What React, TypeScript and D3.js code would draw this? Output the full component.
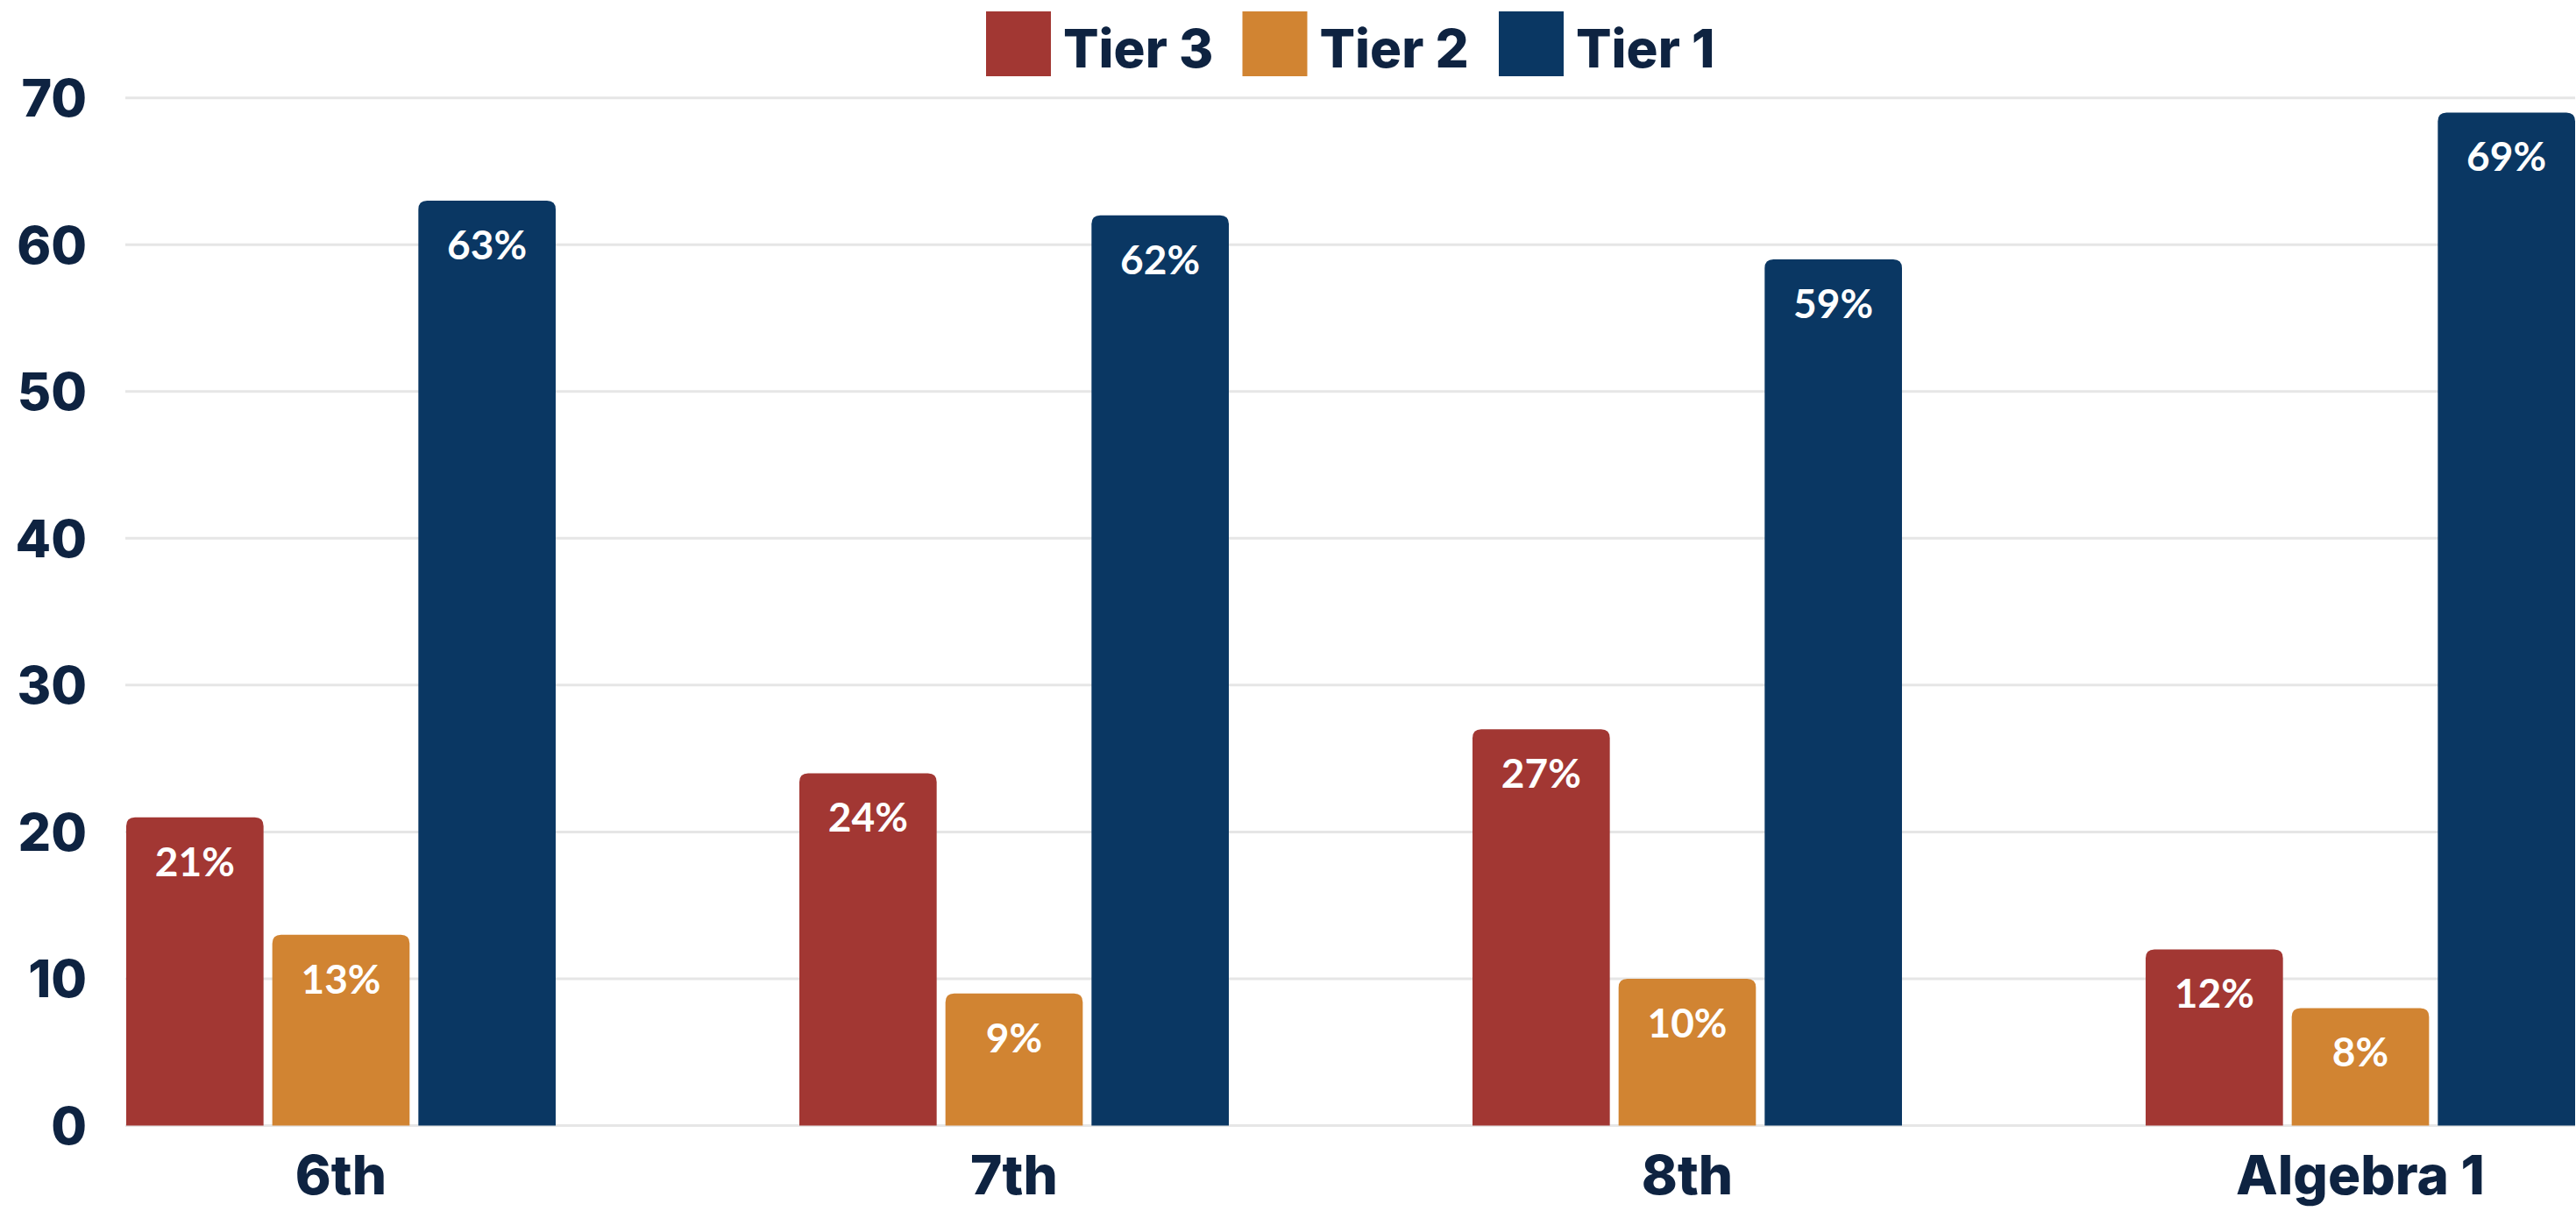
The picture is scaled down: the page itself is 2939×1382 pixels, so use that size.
import React from 'react';
import * as d3 from 'd3';

const categories = ['6th', '7th', '8th', 'Algebra 1'];
const seriesNames = ['Tier 3', 'Tier 2', 'Tier 1'];
const tier3 = [21, 24, 27, 12];
const tier2 = [13, 9, 10, 8];
const tier1 = [63, 62, 59, 69];
const yTicks = [0, 10, 20, 30, 40, 50, 60, 70];

const colors = ['#A23733', '#D18432', '#0A3763'];
const textColor = '#0E2341';
const gridColor = '#E6E6E6';

const W = 2939;
const H = 1382;
const plotLeft = 143;
const plotRight = 2938;

// rect with only the top two corners rounded
function topRoundedRect(x: number, y: number, w: number, h: number, r: number) {
  const rr = Math.min(r, h, w / 2);
  return `M${x},${y + h}V${y + rr}Q${x},${y} ${x + rr},${y}H${x + w - rr}Q${x + w},${y} ${x + w},${y + rr}V${y + h}Z`;
}

export default function App() {
  const series = [tier3, tier2, tier1];

  const y = d3.scaleLinear().domain([0, 70]).range([1284.5, 111.7]);
  const x0 = d3.scaleBand<string>().domain(categories).range([144, 2938]).paddingInner(0.362).paddingOuter(0);
  const x1 = d3.scaleBand<string>().domain(seriesNames).range([0, x0.bandwidth()]).paddingInner(0.06);

  const legendStart = 1125;
  const legendStep = 292.5;

  return (
    <svg
      width={W}
      height={H}
      style={{ position: 'absolute', left: 0, top: 0, background: '#fff' }}
      fontFamily="Inter, 'Open Sans', sans-serif"
    >
      <rect width={W} height={H} fill="#fff" />

      {/* gridlines */}
      {yTicks.map((t) => (
        <line
          key={`g${t}`}
          x1={plotLeft}
          x2={plotRight}
          y1={y(t)}
          y2={y(t)}
          stroke={gridColor}
          strokeWidth={3}
        />
      ))}

      {/* y tick labels */}
      {yTicks.map((t) => (
        <text
          key={`t${t}`}
          x={99}
          y={y(t)}
          textAnchor="end"
          dominantBaseline="central"
          fontSize={59}
          fontWeight={800}
          fill={textColor}
        >
          {t}
        </text>
      ))}

      {/* bars */}
      {categories.map((cat, ci) => (
        <g key={cat} transform={`translate(${x0(cat)},0)`}>
          {seriesNames.map((s, si) => {
            const v = series[si][ci];
            const bx = x1(s) as number;
            const by = y(v);
            const bw = x1.bandwidth();
            return (
              <g key={s}>
                <path d={topRoundedRect(bx, by, bw, y(0) - by, 10)} fill={colors[si]} />
                <text
                  x={bx + bw / 2}
                  y={by + 67}
                  textAnchor="middle"
                  fontFamily="Lato, 'Open Sans', sans-serif"
                  fontSize={46}
                  fontWeight={700}
                  fill="#fff"
                >
                  {v}%
                </text>
              </g>
            );
          })}
        </g>
      ))}

      {/* x labels */}
      {categories.map((cat) => (
        <text
          key={`x${cat}`}
          x={(x0(cat) as number) + x0.bandwidth() / 2}
          y={1363}
          textAnchor="middle"
          fontSize={62}
          fontWeight={800}
          fill={textColor}
        >
          {cat}
        </text>
      ))}

      {/* legend */}
      {seriesNames.map((s, i) => (
        <g key={`l${s}`} transform={`translate(${legendStart + i * legendStep},0)`}>
          <rect x={0} y={13} width={74} height={74} fill={colors[i]} />
          <text x={88} y={77} fontSize={60} fontWeight={800} fill={textColor}>
            {s}
          </text>
        </g>
      ))}
    </svg>
  );
}
